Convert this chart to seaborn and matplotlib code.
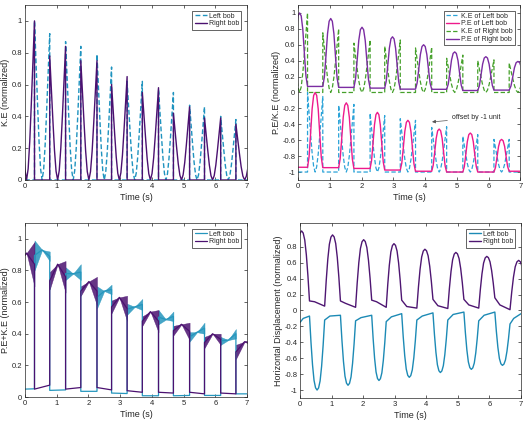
import matplotlib
matplotlib.use("Agg")
import matplotlib.pyplot as plt
import seaborn as sns

# collision instants (s) - the two bobs hand the motion over to each other here
coll_t = [0.30, 0.78, 1.28, 1.76, 2.27, 2.73, 3.22, 3.70, 4.21, 4.68, 5.19, 5.66, 6.17, 6.65]
t_first = -0.20   # right bob's first swing starts before the plotted window
t_last = 7.20     # and its last one ends after it

# shape of one swing
ke_fall = [1.0, 0.74, 0.48, 0.24, 0.07, 0.0]                              # K.E collision -> turning point
pe_bell = [0.0, 0.14, 0.45, 0.78, 0.96, 1.0, 0.96, 0.78, 0.45, 0.14, 0.0]  # P.E over a swing
x_arch = [0.0, 0.36, 0.66, 0.87, 0.97, 1.0, 0.97, 0.87, 0.66, 0.36, 0.0]   # displacement over a swing

# K.E panel: kinetic energy at each collision (right bob has one extra value at both ends)
ke_left = [1.0, 0.92, 0.87, 0.84, 0.79, 0.71, 0.62, 0.62, 0.57, 0.55, 0.47, 0.46, 0.40, 0.38]
ke_right = [0.9, 1.0, 0.78, 0.84, 0.75, 0.75, 0.60, 0.65, 0.55, 0.58, 0.42, 0.46, 0.39, 0.39, 0.35, 0.35]

# P.E/K.E panel
ke_left_b = [1.0, 0.95, 0.84, 0.85, 0.74, 0.71, 0.67, 0.65, 0.56, 0.57, 0.45, 0.47, 0.41, 0.41]
ke_right_b = [0.9, 1.0, 0.75, 0.80, 0.62, 0.66, 0.58, 0.66, 0.56, 0.57, 0.43, 0.47, 0.40, 0.41, 0.37, 0.45]
pe_left_peak = [1.0, 0.87, 0.75, 0.65, 0.54, 0.49, 0.41]
pe_left_base = [0.06, 0.055, 0.045, 0.025, 0.01, 0.0, 0.0, 0.01]
pe_right_peak = [1.0, 0.93, 0.82, 0.70, 0.60, 0.51, 0.45, 0.39]
pe_right_base = [0.08, 0.076, 0.064, 0.055, 0.042, 0.04, 0.025, 0.03, 0.03]

# P.E+K.E panel: band of every swing (hi start, lo start, turning point, hi end, lo end)
en_left = [(0.99, 0.80, 0.93, 0.92, 0.86), (0.82, 0.74, 0.78, 0.84, 0.74),
           (0.70, 0.56, 0.67, 0.71, 0.65), (0.59, 0.52, 0.57, 0.62, 0.55),
           (0.55, 0.46, 0.49, 0.54, 0.48), (0.41, 0.35, 0.41, 0.47, 0.40),
           (0.38, 0.33, 0.36, 0.43, 0.37)]
en_right = [(0.86, 0.86, 0.91, 0.98, 0.70), (0.79, 0.68, 0.84, 0.86, 0.66),
            (0.70, 0.64, 0.73, 0.76, 0.58), (0.61, 0.53, 0.63, 0.64, 0.48),
            (0.51, 0.45, 0.54, 0.55, 0.41), (0.45, 0.39, 0.46, 0.47, 0.36),
            (0.38, 0.31, 0.40, 0.40, 0.33), (0.33, 0.24, 0.35, 0.36, 0.32)]
en_left_rest = [(0.05, 0.052), (0.042, 0.045), (0.036, 0.036), (0.025, 0.022),
                (0.008, 0.008), (0.008, 0.01), (0.01, 0.01), (0.02, 0.02)]
en_right_rest = [(0.05, 0.075), (0.05, 0.06), (0.06, 0.045), (0.04, 0.03),
                 (0.03, 0.025), (0.03, 0.02), (0.025, 0.02)]

# displacement panel
x_right_peak = [1.0, 0.95, 0.89, 0.84, 0.77, 0.73, 0.68, 0.63]
x_right_rest = [(0.12, 0.11, 0.055), (0.12, 0.09, 0.04), (0.13, 0.11, 0.04), (0.13, 0.05, 0.03),
                (0.14, 0.06, 0.025), (0.14, 0.07, 0.03), (0.16, 0.07, 0.01)]
x_left_trough = [-1.0, -0.94, -0.88, -0.84, -0.78, -0.74, -0.69]
x_left_rest = [(-0.15, -0.10, -0.07), (-0.12, -0.07, -0.06), (-0.13, -0.09, -0.06), (-0.14, -0.08, -0.04),
               (-0.12, -0.07, -0.03), (-0.12, -0.05, -0.02), (-0.13, -0.06, -0.02), (-0.17, -0.10, -0.04)]

left_bounds = [0.0] + coll_t + [7.0]
right_bounds = [t_first] + coll_t + [t_last]


def spread(a, b, n):
    return [a + (b - a) * i / n for i in range(n + 1)]


def walk(bounds, swing_first, on_swing, on_rest):
    # alternate swing / rest segments between the collisions
    t, v = [], []
    ks = kr = 0
    swing = swing_first
    for a, b in zip(bounds[:-1], bounds[1:]):
        if swing:
            ts, vs = on_swing(ks, a, b)
            ks += 1
        else:
            ts, vs = on_rest(kr, a, b)
            kr += 1
        t += ts
        v += vs
        swing = not swing
    return t, v


def ke_curve(bounds, swing_first, peaks, zero=0.0):
    n = len(ke_fall) - 1

    def swing(k, a, b):
        m = (a + b) / 2
        ts = [a] + spread(a, m, n) + spread(m, b, n) + [b]
        vs = ([zero] + [zero + peaks[2 * k] * s for s in ke_fall]
              + [zero + peaks[2 * k + 1] * s for s in ke_fall[::-1]] + [zero])
        return ts, vs

    return walk(bounds, swing_first, swing, lambda k, a, b: ([a, b], [zero, zero]))


def pe_curve(bounds, swing_first, peaks, base, zero=0.0):
    n = len(pe_bell) - 1
    sh = 1 if swing_first else 0

    def swing(k, a, b):
        vs = []
        for i, s in enumerate(pe_bell):
            b0 = base[k] if i <= n // 2 else base[k + 1]
            vs.append(zero + b0 + (peaks[k] - b0) * s)
        return spread(a, b, n), vs

    def rest(k, a, b):
        return [a, b], [zero + base[k + sh]] * 2

    return walk(bounds, swing_first, swing, rest)


def disp_curve(bounds, swing_first, peaks, rests, ends=(0.0, 0.0)):
    n = len(x_arch) - 1
    off = 0 if swing_first else 1

    def swing(k, a, b):
        j0, j1 = k - 1 + off, k + off
        b0 = rests[j0][2] if j0 >= 0 else ends[0]
        b1 = rests[j1][0] if j1 < len(rests) else ends[1]
        vs = []
        for i, s in enumerate(x_arch):
            bb = b0 if i <= n // 2 else b1
            vs.append(bb + (peaks[k] - bb) * s)
        return spread(a, b, n), vs

    def rest(k, a, b):
        return [a, a + (b - a) / 3, b], list(rests[k])

    return walk(bounds, swing_first, swing, rest)


def energy_curve(bounds, swing_first, env, rests):
    bands = []

    def swing(k, a, b):
        hi0, lo0, mid, hi1, lo1 = env[k]
        m = (a + b) / 2
        bands.append(([a, m, b], [lo0, mid, lo1], [hi0, mid, hi1]))
        return [a, m, b], [(hi0 + lo0) / 2, mid, (hi1 + lo1) / 2]

    t, v = walk(bounds, swing_first, swing, lambda k, a, b: ([a, b], list(rests[k])))
    return t, v, bands


c_left = "#1f93bf"
c_right = "#4b1170"
txt = "#262626"

sns.set_theme(style="white")
plt.rcParams["font.family"] = ["Liberation Sans", "DejaVu Sans"]

fig = plt.figure(figsize=(5.27, 4.22), dpi=100)
ax_ke = fig.add_axes([0.0474, 0.5735, 0.4213, 0.4147])
ax_pk = fig.add_axes([0.5655, 0.5735, 0.4218, 0.4147])
ax_en = fig.add_axes([0.0474, 0.0592, 0.4213, 0.4123])
ax_x = fig.add_axes([0.5693, 0.0569, 0.4194, 0.4147])


def matlab_axes(ax, ylim, yticks, ylabel):
    ax.set_xlim(0, 7)
    ax.set_ylim(*ylim)
    ax.set_xticks(range(8))
    ax.set_xticklabels([str(i) for i in range(8)])
    ax.set_yticks(yticks)
    ax.set_yticklabels([f"{y:g}" for y in yticks])
    ax.tick_params(direction="in", length=2, width=0.5, labelsize=5.5, colors=txt,
                   top=True, right=True, bottom=True, left=True, pad=2)
    for s in ax.spines.values():
        s.set_visible(True)
        s.set_linewidth(0.5)
        s.set_color(txt)
    ax.set_xlabel("Time (s)", fontsize=6.5, color=txt, labelpad=2)
    ax.set_ylabel(ylabel, fontsize=6.5, color=txt, labelpad=1)


def box_legend(ax):
    leg = ax.legend(loc="upper right", fontsize=5, frameon=True, fancybox=False,
                    edgecolor=txt, framealpha=1, borderpad=0.3, handlelength=1.8,
                    handletextpad=0.3, labelspacing=0.12, borderaxespad=0.8)
    leg.get_frame().set_linewidth(0.5)


dash = (0, (3.5, 1.8))

# ---- K.E
t, v = ke_curve(left_bounds, False, ke_left)
sns.lineplot(x=t, y=v, sort=False, estimator=None, color=c_left, lw=1.0, linestyle=dash,
             label="Left bob", ax=ax_ke)
t, v = ke_curve(right_bounds, True, ke_right)
sns.lineplot(x=t, y=v, sort=False, estimator=None, color=c_right, lw=1.0, label="Right bob", ax=ax_ke)
matlab_axes(ax_ke, (0, 1.1), [0, 0.2, 0.4, 0.6, 0.8, 1], "K.E (normalized)")
box_legend(ax_ke)

# ---- P.E / K.E
t, v = ke_curve(left_bounds, False, ke_left_b, zero=-1.0)
sns.lineplot(x=t, y=v, sort=False, estimator=None, color="#2ba3d8", lw=0.9, linestyle=dash,
             label="K.E of Left bob", ax=ax_pk)
t, v = pe_curve(left_bounds, False, pe_left_peak, pe_left_base, zero=-1.0)
sns.lineplot(x=t, y=v, sort=False, estimator=None, color="#ee1a8c", lw=1.0,
             label="P.E of Left bob", ax=ax_pk)
t, v = ke_curve(right_bounds, True, ke_right_b)
sns.lineplot(x=t, y=v, sort=False, estimator=None, color="#45a02a", lw=0.9, linestyle=dash,
             label="K.E of Right bob", ax=ax_pk)
t, v = pe_curve(right_bounds, True, pe_right_peak, pe_right_base)
sns.lineplot(x=t, y=v, sort=False, estimator=None, color="#7b2ca2", lw=1.0,
             label="P.E of Right bob", ax=ax_pk)
ax_pk.annotate("offset by -1 unit", xy=(4.22, -0.37), xytext=(4.85, -0.32), fontsize=5,
               color=txt, va="center",
               arrowprops=dict(arrowstyle="-|>", color="#555555", lw=0.5, mutation_scale=5,
                               shrinkA=1, shrinkB=0))
matlab_axes(ax_pk, (-1.1, 1.1), [round(-1 + 0.2 * i, 1) for i in range(11)], "P.E/K.E (normalized)")
box_legend(ax_pk)

# ---- P.E + K.E
for bounds, first, env, rests, col, name in [
        (left_bounds, False, en_left, en_left_rest, "#2596bd", "Left bob"),
        (right_bounds, True, en_right, en_right_rest, c_right, "Right bob")]:
    t, v, bands = energy_curve(bounds, first, env, rests)
    for bt, lo, hi in bands:
        ax_en.fill_between(bt, lo, hi, color=col, lw=0.3, alpha=0.85)
    sns.lineplot(x=t, y=v, sort=False, estimator=None, color=col, lw=0.9, label=name, ax=ax_en)
matlab_axes(ax_en, (0, 1.1), [0, 0.2, 0.4, 0.6, 0.8, 1], "P.E+K.E (normalized)")
box_legend(ax_en)

# ---- horizontal displacement
t, v = disp_curve(left_bounds, False, x_left_trough, x_left_rest)
sns.lineplot(x=t, y=v, sort=False, estimator=None, color="#1c8ab5", lw=1.0, label="Left bob", ax=ax_x)
t, v = disp_curve(right_bounds, True, x_right_peak, x_right_rest, ends=(0.1, 0.0))
sns.lineplot(x=t, y=v, sort=False, estimator=None, color="#4e1672", lw=1.0, label="Right bob", ax=ax_x)
matlab_axes(ax_x, (-1.1, 1.1), [round(-1 + 0.2 * i, 1) for i in range(10)],
            "Horizontal Displacement (normalized)")
box_legend(ax_x)

fig.savefig("out.png", dpi=100)
